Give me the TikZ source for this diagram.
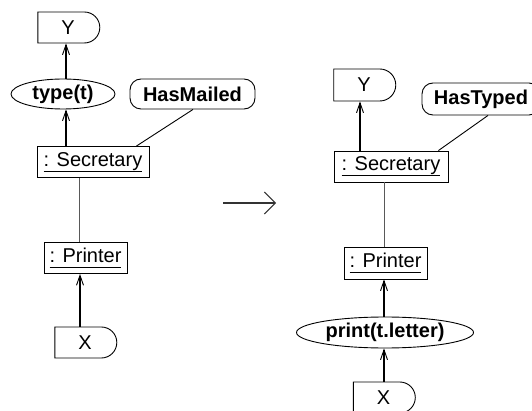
\documentclass[tikz,border=0pt]{standalone}
\usepackage{fontspec}
\setmainfont{Liberation Sans}
\usetikzlibrary{shapes.misc,shapes.geometric,arrows.meta,calc}

% object name with an underline at a fixed depth
\newcommand\objname[1]{\setbox0\hbox{#1}\rlap{\raisebox{-5pt}{\rule{\wd0}{0.9pt}}}\box0}

\tikzset{
  txt/.style={font=\fontsize{20}{24}\selectfont},
  pinbox/.style={txt, draw, line width=0.9pt, inner sep=0pt, rounded rectangle,
    rounded rectangle left arc=none, minimum width=62pt, minimum height=31pt},
  objbox/.style={txt, draw, line width=0.9pt, inner sep=0pt, rectangle, minimum height=31pt},
  actbox/.style={font=\bfseries\fontsize{20}{24}\selectfont, draw, line width=0.9pt,
    inner sep=0pt, ellipse, minimum height=30pt},
  condbox/.style={font=\bfseries\fontsize{20}{24}\selectfont, draw, line width=0.9pt,
    inner sep=0pt, rectangle, rounded corners=11pt, minimum height=30pt},
  flow/.style={line width=1.6pt, -{Straight Barb[length=10pt,width=7pt,line width=0.9pt]}},
  assoc/.style={line width=0.9pt},
  objlink/.style={line width=0.9pt, black!65},
  transform/.style={line width=1.2pt, black!80, -{Straight Barb[length=11pt,width=22pt,line width=1pt]}},
}

\begin{document}
\begin{tikzpicture}[x=1pt,y=-1pt]
\useasboundingbox (0,0) rectangle (532,411);
\clip (0,0) rectangle (532,411);

% ---- left side ----
\node[pinbox] (y1) at (68,27.5) {Y};
\node[actbox, minimum width=104pt] (t1) at (63,94) {type(t)};
\node[condbox, minimum width=125pt] (m1) at (192.5,94) {HasMailed};
\node[objbox, minimum width=112pt] (s1) at (93,162) {\objname{: Secretary}};
\node[objbox, minimum width=83pt] (p1) at (85.5,258) {\objname{: Printer}};
\node[pinbox] (x1) at (85,342.5) {X};

\coordinate (la) at (66,0);
\coordinate (lb) at (79,0);
\coordinate (lc) at (80,0);

\draw[flow] (s1.north -| la) -- (t1.south -| la);
\draw[flow] (t1.north -| la) -- (y1.south -| la);
\draw[assoc] ([xshift=0.5pt]m1.south) -- ([xshift=-13pt]s1.north east);
\draw[objlink] (s1.south -| lb) -- (p1.north -| lb);
\draw[flow] (x1.north -| lc) -- (p1.south -| lc);

% ---- transformation arrow ----
\coordinate (ta) at (223,203);
\coordinate (tb) at (276,203);
\draw[transform] (ta) -- (tb);

% ---- right side ----
\node[pinbox, minimum height=32pt] (y2) at (364,85) {Y};
\node[condbox, minimum width=118pt, minimum height=32pt] (m2) at (481,99) {HasTyped};
\node[objbox, minimum width=114pt] (s2) at (391,166.5) {\objname{: Secretary}};
\node[objbox, minimum width=83pt, minimum height=32pt] (p2) at (385.5,263) {\objname{: Printer}};
\node[actbox, minimum width=177pt, minimum height=31pt] (t2) at (385,332.5) {print(t.letter)};
\node[pinbox] (x2) at (383.5,397.5) {X};

\coordinate (ra) at (360,0);
\coordinate (rb) at (384,0);

\draw[flow] (s2.north -| ra) -- (y2.south -| ra);
\draw[assoc] ([xshift=7pt]m2.south) -- ([xshift=-10pt]s2.north east);
\draw[objlink] (s2.south -| rb) -- (p2.north -| rb);
\draw[flow] (t2.north -| rb) -- (p2.south -| rb);
\draw[flow] (x2.north -| rb) -- (t2.south -| rb);
\end{tikzpicture}
\end{document}
